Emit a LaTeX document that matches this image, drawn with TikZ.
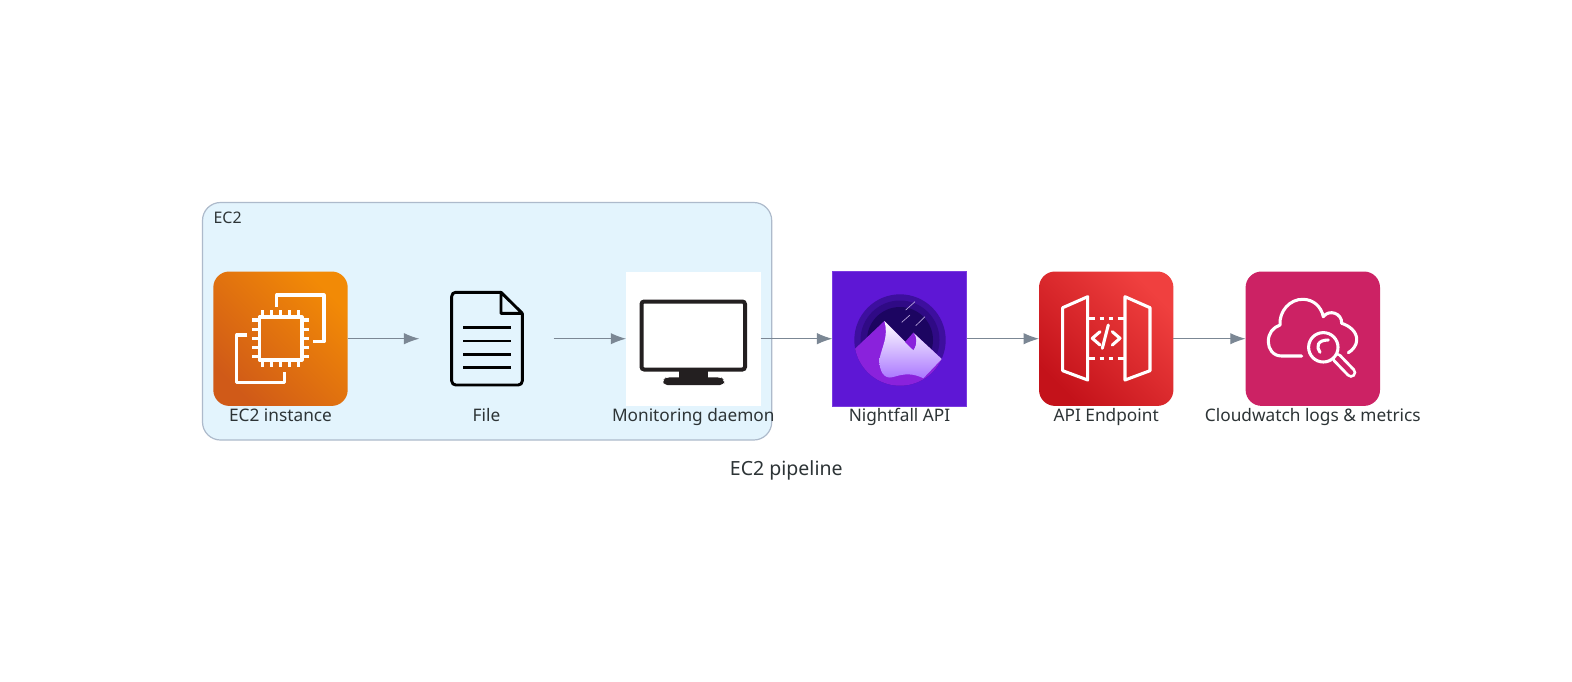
\documentclass[tikz,border=0pt]{standalone}
\usepackage{fontspec}
\setmainfont{Noto Sans}
\usetikzlibrary{arrows.meta}
\definecolor{lbl}{HTML}{2D3436}
\definecolor{edgec}{HTML}{7B8794}
\definecolor{clfill}{HTML}{E3F4FD}
\definecolor{cldraw}{HTML}{ADBACB}
\definecolor{ecA}{HTML}{D05A18}
\definecolor{ecB}{HTML}{F28A06}
\definecolor{nfbg}{HTML}{5E17D5}
\definecolor{nfedge}{HTML}{7A3BE0}
\definecolor{apiA}{HTML}{C4121A}
\definecolor{apiB}{HTML}{F0403F}
\definecolor{cwbg}{HTML}{CC2264}
\definecolor{mono}{HTML}{231F20}
\definecolor{ringA}{HTML}{3D0F9E}
\definecolor{ringB}{HTML}{2F0A85}
\definecolor{ringC}{HTML}{1C0561}
\definecolor{hill}{HTML}{8A22DC}
\definecolor{snow}{HTML}{A874FF}
\definecolor{star}{HTML}{B9A6DC}
\tikzset{
  iconbox/.style={rectangle,minimum width=100.8bp,minimum height=100.8bp,inner sep=0pt,outer sep=0pt,line width=0pt},
  awsbox/.style={iconbox,rounded corners=12bp},
  nodelabel/.style={text=lbl,font=\fontsize{13pt}{15pt}\selectfont,inner sep=0pt,anchor=base},
  flow/.style={draw=edgec,line width=0.75bp,-{Latex[length=11.5bp,width=8.5bp]}},
  whiteicon/.style={draw=white,line width=2.3bp,line join=round},
  blackicon/.style={draw=black,line width=2.2bp,line join=round}
}
\begin{document}
\begin{tikzpicture}[x=0.75bp,y=-0.75bp]
\useasboundingbox (0,0) rectangle (1572,681);
\fill[white] (0,0) rectangle (1572,681);
% cluster
\draw[fill=clfill,draw=cldraw,line width=0.9bp,rounded corners=13.5bp] (202.5,202.5) rectangle (771.7,440);
\node[text=lbl,font=\fontsize{12pt}{14pt}\selectfont,inner sep=0pt,anchor=base west] (clusterlabel) at (213.3,223.3) {EC2};
% boxes
\node[awsbox,bottom color=ecA,top color=ecB,shading angle=-45] (ec2) at (280.5,338.7) {};
\node[iconbox] (file) at (486.5,338.7) {};
\node[iconbox,fill=white] (mon) at (693.3,338.7) {};
\node[iconbox,fill=nfbg,draw=nfedge,line width=0.5bp] (nf) at (899.5,338.7) {};
\node[awsbox,bottom color=apiA,top color=apiB,shading angle=-45] (api) at (1106.2,338.7) {};
\node[awsbox,fill=cwbg] (cw) at (1312.8,338.7) {};
% connectors
\draw[flow] (ec2) -- (file);
\draw[flow] (file) -- (mon);
\draw[flow] (mon) -- (nf);
\draw[flow] (nf) -- (api);
\draw[flow] (api) -- (cw);
% EC2 icon
\draw[whiteicon] (276.7,306.7) -- (276.7,295) -- (324,295) -- (324,341.7) -- (313.3,341.7);
\draw[whiteicon] (247.3,335) -- (236.7,335) -- (236.7,382.3) -- (284.3,382.3) -- (284.3,371.7);
\draw[whiteicon] (259.5,317) rectangle (302,360);
\foreach \a in {262.7,271.7,280.7,289.3,298.3}{
  \draw[whiteicon] (\a,310) -- (\a,317);
  \draw[whiteicon] (\a,360) -- (\a,366.5);
}
\foreach \b in {320,329.3,338.3,347.3,356.7}{
  \draw[whiteicon] (252,\b) -- (259.5,\b);
  \draw[whiteicon] (302,\b) -- (309,\b);
}
% file icon
\draw[blackicon,rounded corners=3bp] (501,292.3) -- (451.7,292.3) -- (451.7,385) -- (522.3,385) -- (522.3,313.3);
\draw[blackicon] (501,292.3) -- (522.3,313.3) -- (501,313.3) -- cycle;
\foreach \c in {327.7,341,354.3,367.7}{
  \draw[draw=black,line width=2bp] (463.3,\c) -- (510.7,\c);
}
% monitor icon
\draw[draw=mono,fill=white,line width=3bp,rounded corners=2bp] (641.5,301.5) rectangle (745,369.5);
\fill[mono] (679,371) rectangle (708.3,378);
\fill[mono,rounded corners=3bp] (663.3,385) -- (663.3,380) -- (666,377.3) -- (721,377.3) -- (724,380) -- (724,385) -- cycle;
% nightfall icon
\fill[ringA] (900,340) circle (45.7);
\fill[ringB] (900,340) circle (39.5);
\fill[ringC] (900,340) circle (33);
\begin{scope}
\clip (900,340) circle (45.7);
\fill[hill] (884.3,321) -- (850,353.5) -- (850,395) -- (950,395) -- (950,367) -- (941.7,359) -- (913.3,332.7) -- (913.3,350) -- cycle;
\shade[top color=white,bottom color=snow] (884.3,321) -- (913.3,350) .. controls (917.7,343.3) and (916.7,336.7) .. (913.3,332.7) -- (941.7,359) -- (923.3,378.3) .. controls (913.3,373.3) and (905,373.3) .. (893.3,377) .. controls (883.3,380) and (879.3,370) .. (879.3,360) .. controls (881.7,346.7) and (889,336.7) .. (884.3,321) -- cycle;
\fill[hill] (905,342) -- (913.3,332.7) .. controls (916.7,336.7) and (917.7,343.3) .. (913.3,350) -- cycle;
\end{scope}
\draw[draw=star,line width=0.5bp] (905.7,310) -- (915,301.7);
\draw[draw=star,line width=0.5bp] (901.7,322.3) -- (910,315);
\draw[draw=star,line width=0.5bp] (915.7,325.7) -- (925,316.7);
% api icon
\draw[whiteicon] (1087.7,296.7) -- (1062.7,307.7) -- (1062.7,370.7) -- (1087.7,380) -- cycle;
\draw[whiteicon] (1125,296.7) -- (1150,307.7) -- (1150,370.7) -- (1125,380) -- cycle;
\foreach \d in {318.7,358.3}{
  \draw[draw=white,line width=2.3bp] (1087.7,\d) -- (1095,\d);
  \draw[draw=white,line width=2.3bp] (1099.5,\d) -- (1104,\d);
  \draw[draw=white,line width=2.3bp] (1108.5,\d) -- (1113,\d);
  \draw[draw=white,line width=2.3bp] (1117.5,\d) -- (1125,\d);
}
\draw[whiteicon,line cap=round] (1100,331.7) -- (1092.3,338.3) -- (1100,345);
\draw[whiteicon,line cap=round] (1112.3,331.7) -- (1120,338.3) -- (1112.3,345);
\draw[whiteicon,line cap=round] (1108.3,325) -- (1102.3,348.3);
% cloudwatch icon
\draw[whiteicon,line cap=round] (1301.7,356) -- (1281.7,356) .. controls (1273,356) and (1268.3,349) .. (1268.3,341.7) .. controls (1268.3,333) and (1273,327.5) .. (1280,325) .. controls (1279,311) and (1290,299) .. (1303,299.3) .. controls (1313,299.5) and (1321,306) .. (1323.3,316.7) .. controls (1329,309) and (1342,313) .. (1341.7,323.3) .. controls (1350,326) and (1357,332) .. (1356.7,340) .. controls (1356.7,345) and (1353,350) .. (1348.3,352.7);
\draw[draw=white,line width=8bp,line cap=round] (1337,358) -- (1351,372.5);
\draw[draw=cwbg,line width=3.6bp,line cap=round] (1337,358) -- (1351,372.5);
\draw[whiteicon,fill=cwbg] (1323.3,347.3) circle (14.7);
\draw[whiteicon,line cap=round] (1320,352.3) .. controls (1316,347) and (1317,340) .. (1328.3,340);
% labels
\node[nodelabel] (l1) at (280.5,421.7) {EC2 instance};
\node[nodelabel] (l2) at (486.5,421.7) {File};
\node[nodelabel] (l3) at (693.3,421.7) {Monitoring daemon};
\node[nodelabel] (l4) at (899.5,421.7) {Nightfall API};
\node[nodelabel] (l5) at (1106.2,421.7) {API Endpoint};
\node[nodelabel] (l6) at (1312.8,421.7) {Cloudwatch logs \& metrics};
\node[text=lbl,font=\fontsize{14.7pt}{17pt}\selectfont,inner sep=0pt,anchor=base] (title) at (786.3,475.2) {EC2 pipeline};
\end{tikzpicture}
\end{document}
